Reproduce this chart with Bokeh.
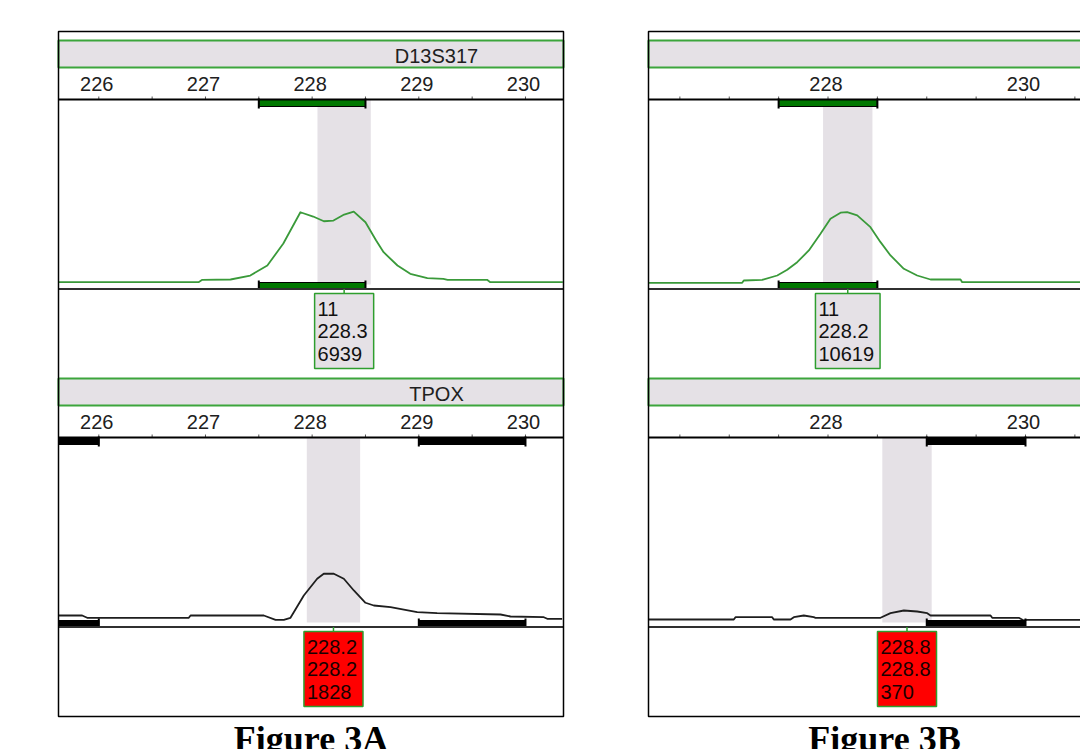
from bokeh.plotting import figure
from bokeh.models import Range1d
from bokeh.core.properties import value
from bokeh.embed import file_html
from bokeh.resources import INLINE

# ------------------------------------------------------------------
# Data
# ------------------------------------------------------------------
figure_titles = ["Figure 3A", "Figure 3B"]
locus_names = ["D13S317", "TPOX"]

ticks_3a = [226.0, 226.5, 227.0, 227.5, 228.0, 228.5, 229.0, 229.5, 230.0]
tick_labels_3a = [226, 227, 228, 229, 230]
ticks_3b = [226.5, 227.0, 227.5, 228.0, 228.5, 229.0, 229.5, 230.0, 230.5]
tick_labels_3b = [228, 230]

bins_d13s317 = [(227.5, 228.5)]
bins_tpox = [(225.0, 226.0), (229.0, 230.0)]

# Figure 3A - D13S317 (size in bp, height in RFU)
a_d13_bp = [225.62, 226.935, 226.97, 227.235, 227.42, 227.58, 227.73, 227.89,
            228.01, 228.11, 228.20, 228.30, 228.39, 228.50, 228.60, 228.67,
            228.80, 228.92, 229.08, 229.23, 229.27, 229.64, 229.67, 230.35]
a_d13_rfu = [219, 219, 447, 475, 855, 1806, 3897, 6872,
             6464, 6017, 6084, 6654, 6939, 5921, 4182, 3070,
             1806, 1017, 599, 542, 447, 447, 219, 219]

# Figure 3A - TPOX
a_tpox_bp = [225.625, 225.844, 225.891, 226.844, 226.86, 227.547, 227.657, 227.734,
             227.797, 227.922, 228.047, 228.109, 228.203, 228.297, 228.391, 228.50,
             228.578, 228.735, 228.985, 229.172, 229.766, 229.86, 230.172, 230.204, 230.344]
a_tpox_rfu = [263, 263, 176, 176, 263, 263, 101, 101,
              176, 1014, 1640, 1828, 1828, 1640, 1201, 740,
              638, 574, 387, 349, 300, 225, 199, 139, 139]

# Figure 3B - D13S317
b_d13_bp = [226.185, 227.131, 227.147, 227.334, 227.486, 227.587, 227.688, 227.806,
            227.924, 228.025, 228.127, 228.194, 228.296, 228.430, 228.532, 228.633,
            228.768, 228.903, 229.038, 229.342, 229.359, 230.557]
b_d13_rfu = [250, 250, 588, 690, 1322, 2159, 3276, 4994,
             7448, 9651, 10532, 10619, 10136, 8417, 6214, 4260,
             2306, 1322, 735, 735, 338, 338]

# Figure 3B - TPOX
b_tpox_bp = [226.185, 227.046, 227.063, 227.435, 227.451, 227.620, 227.654, 227.755,
             227.856, 227.873, 228.532, 228.633, 228.768, 228.903, 229.005, 229.038,
             229.646, 229.663, 229.932, 229.983, 230.017, 230.557]
b_tpox_rfu = [92, 92, 163, 163, 92, 92, 163, 216,
              163, 145, 145, 287, 370, 339, 287, 216,
              216, 145, 145, 62, 83, 83]

# peak call labels: allele / size / height
a_d13_call = ["11", "228.3", "6939"]
a_tpox_call = ["228.2", "228.2", "1828"]
b_d13_call = ["11", "228.2", "10619"]
b_tpox_call = ["228.8", "228.8", "370"]

# RFU value at the top of each trace area (panel scale)
panel_ymax = {"A0": 17500, "A1": 6900, "B0": 27000, "B1": 5670}

# ------------------------------------------------------------------
# Layout / style constants (page pixels)
# ------------------------------------------------------------------
W, H = 1080, 749
BORDER_TOP, BORDER_BOTTOM = 31, 716
LOCUS_TOP = [40, 378]
HEAD_H = 27
NAME_DY = 15
TICKLAB_DY = 43
AXIS_DY = 59
TRACE_TOP_DY = 60
ZERO_DY = 244
BASE_DY = 248.5
BOX_TOP_DY = 253
BOX_H = 75
BOX_LINES_DY = [15, 37.5, 60]
FONT_PX = 20

GREY = "#e5e1e6"
HEAD_GREEN = "#3ca53c"
TRACE_GREEN = "#3a9a3a"
BIN_GREEN = "#007800"
BOX_GREEN = "#2e9e2e"
RED = "#ff0000"
FONT = value("Liberation Sans")

cols = {
    "A": dict(left=58, right=563, ref_bp=226.0, ref_px=98.3, ppb=106.67,
              ticks=ticks_3a, labels=tick_labels_3a, name_x=436, caption_x=310.5,
              title=figure_titles[0], names=True),
    "B": dict(left=648, right=1130, ref_bp=228.0, ref_px=827.5, ppb=98.75,
              ticks=ticks_3b, labels=tick_labels_3b, name_x=None, caption_x=884,
              title=figure_titles[1], names=False),
}

panels = [
    dict(col="A", row=0, bp=a_d13_bp, rfu=a_d13_rfu, call=a_d13_call, bins=bins_d13s317, kind="green"),
    dict(col="A", row=1, bp=a_tpox_bp, rfu=a_tpox_rfu, call=a_tpox_call, bins=bins_tpox, kind="black"),
    dict(col="B", row=0, bp=b_d13_bp, rfu=b_d13_rfu, call=b_d13_call, bins=bins_d13s317, kind="green"),
    dict(col="B", row=1, bp=b_tpox_bp, rfu=b_tpox_rfu, call=b_tpox_call, bins=bins_tpox, kind="black"),
]


def px_to_bp(c, px):
    return c["ref_bp"] + (px - c["ref_px"]) / c["ppb"]


def text_width(s):
    w = 0.0
    for ch in s:
        w += 0.278 if ch == "." else 0.556
    return w * FONT_PX


p = figure(width=W, height=H, x_range=Range1d(0, W), y_range=Range1d(H, 0),
           output_backend="svg", toolbar_location=None, min_border=0,
           x_axis_type=None, y_axis_type=None)
p.outline_line_color = None
p.background_fill_color = "white"
p.border_fill_color = "white"

extra_x = {}
for key, c in cols.items():
    extra_x[key] = Range1d(px_to_bp(c, 0), px_to_bp(c, W))
extra_y = {}
for pan in panels:
    name = f"{pan['col']}{pan['row']}"
    zy = LOCUS_TOP[pan["row"]] + ZERO_DY
    k = panel_ymax[name] / (ZERO_DY - TRACE_TOP_DY)
    extra_y[name] = Range1d(-(H - zy) * k, zy * k)
p.extra_x_ranges = extra_x
p.extra_y_ranges = extra_y

# ---- column headers and axes ----
for key, c in cols.items():
    right_vis = min(c["right"], W + 5)
    lo_bp = px_to_bp(c, c["left"])
    hi_bp = px_to_bp(c, min(c["right"], W))
    for r, L in enumerate(LOCUS_TOP):
        p.quad(left=[c["left"]], right=[right_vis], top=[L], bottom=[L + HEAD_H],
               fill_color=GREY, line_color=HEAD_GREEN, line_width=2)
        if c["names"]:
            p.text(x=[c["name_x"]], y=[L + NAME_DY], text=[locus_names[r]],
                   text_font=FONT, text_font_size=f"{FONT_PX}px", text_color="#202020",
                   text_align="center", text_baseline="middle")
        labs = [t for t in c["labels"] if lo_bp <= t <= hi_bp]
        p.text(x=labs, y=[L + TICKLAB_DY] * len(labs), text=[str(t) for t in labs],
               x_range_name=key, x_offset=-2, text_font=FONT, text_font_size=f"{FONT_PX}px",
               text_color="#202020", text_align="center", text_baseline="middle")
        tks = [t for t in c["ticks"] if lo_bp <= t <= hi_bp]
        p.segment(x0=tks, y0=[L + AXIS_DY - 3] * len(tks), x1=tks, y1=[L + AXIS_DY] * len(tks),
                  x_range_name=key, line_color="#555555", line_width=1)

# ---- panels ----
for pan in panels:
    c = cols[pan["col"]]
    key = pan["col"]
    yname = f"{pan['col']}{pan['row']}"
    L = LOCUS_TOP[pan["row"]]
    lo_bp = px_to_bp(c, c["left"])
    hi_bp = px_to_bp(c, min(c["right"], W + 5))
    right_vis = min(c["right"], W + 5)
    call_x = float(pan["call"][1])
    green = pan["kind"] == "green"

    # bin window shading around the called size
    p.quad(left=[call_x - 0.25], right=[call_x + 0.25], top=[L + TRACE_TOP_DY - 1],
           bottom=[L + ZERO_DY], x_range_name=key, fill_color=GREY, line_color=None)

    # trace
    p.line(x=pan["bp"], y=pan["rfu"], x_range_name=key, y_range_name=yname,
           line_color=TRACE_GREEN if green else "#1e1e1e", line_width=1.8, line_join="round")

    # bins (top and bottom markers), clipped to the visible column
    vis = [(max(b[0], lo_bp), min(b[1], hi_bp)) for b in pan["bins"] if b[1] > lo_bp and b[0] < hi_bp]
    bl = [v[0] for v in vis]
    br = [v[1] for v in vis]
    caps = [e for b in pan["bins"] for e in b if lo_bp < e < hi_bp]
    fill = BIN_GREEN if green else "#000000"
    n = len(bl)
    for (yt, yb, ct, cb) in [(L + AXIS_DY, L + AXIS_DY + 7, L + AXIS_DY - 1, L + AXIS_DY + 9),
                             (L + ZERO_DY - 2, L + BASE_DY, L + ZERO_DY - 4, L + BASE_DY)]:
        if n:
            p.quad(left=bl, right=br, top=[yt] * n, bottom=[yb] * n, x_range_name=key,
                   fill_color=fill, line_color="black", line_width=1)
        if caps:
            p.segment(x0=caps, y0=[ct] * len(caps), x1=caps, y1=[cb] * len(caps),
                      x_range_name=key, line_color="black", line_width=2)

    # axis line and baseline
    p.segment(x0=[c["left"]], y0=[L + AXIS_DY], x1=[right_vis], y1=[L + AXIS_DY],
              line_color="black", line_width=2)
    p.segment(x0=[c["left"]], y0=[L + BASE_DY], x1=[right_vis], y1=[L + BASE_DY],
              line_color="#303030", line_width=2)

    # connector + label box
    p.segment(x0=[call_x], y0=[L + BASE_DY], x1=[call_x], y1=[L + BOX_TOP_DY],
              x_range_name=key, line_color=BOX_GREEN, line_width=1.5)
    bw = max(text_width(s) for s in pan["call"]) + 9
    p.rect(x=[call_x], y=[L + BOX_TOP_DY + BOX_H / 2], width=[bw], height=[BOX_H],
           width_units="screen", height_units="screen", x_range_name=key,
           fill_color=GREY if green else RED, line_color=BOX_GREEN, line_width=1.5)
    p.text(x=[call_x] * 3, y=[L + BOX_TOP_DY + d for d in BOX_LINES_DY],
           text=pan["call"], x_range_name=key, x_offset=-bw / 2 + 3,
           text_font=FONT, text_font_size=f"{FONT_PX}px",
           text_color="#111111" if green else "#1a0000",
           text_align="left", text_baseline="middle")

# ---- column borders and captions ----
for key, c in cols.items():
    p.quad(left=[c["left"]], right=[c["right"]], top=[BORDER_TOP], bottom=[BORDER_BOTTOM],
           fill_color=None, line_color="black", line_width=1.5)
    p.text(x=[c["caption_x"]], y=[738], text=[c["title"]],
           text_font=value("Liberation Serif"), text_font_style="bold",
           text_font_size="36px", text_color="black",
           text_align="center", text_baseline="middle")

open("out.html", "w").write(file_html(p, INLINE))
